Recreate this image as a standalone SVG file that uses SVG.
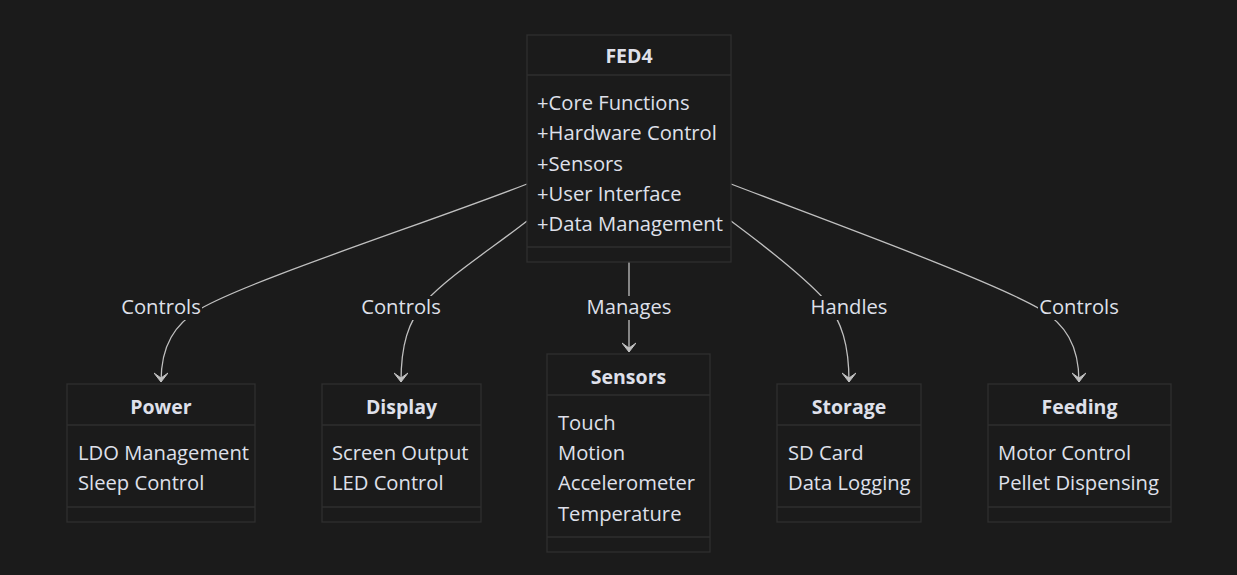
<svg xmlns="http://www.w3.org/2000/svg" width="1237" height="575" viewBox="0 0 1237 575">
<defs>
<style>
.bg{fill:#1b1b1b}
.box{fill:#1b1b1b;stroke:#2f2f2f;stroke-width:1.3}
.div{stroke:#2f2f2f;stroke-width:1.3}
text{font-family:"Open Sans","Noto Sans","DejaVu Sans",sans-serif;fill:#dfe0ea;font-size:20.2px}
.title{font-weight:bold;text-anchor:middle;font-size:19.5px}
.lbl{text-anchor:middle}
.edge{fill:none;stroke:#c0c0c0;stroke-width:1.3}
.lblbg{fill:#1b1b1b}
</style>
<marker id="arr" viewBox="0 0 14 12" refX="7" refY="12" markerWidth="14" markerHeight="12" markerUnits="userSpaceOnUse" orient="0">
<path d="M0,3 L7,12 L14,3 L7,8 Z" fill="#c0c0c0" stroke="#c0c0c0" stroke-width="1" stroke-linejoin="miter"/>
</marker>
</defs>
<rect class="bg" x="0" y="0" width="1237" height="575"/>
<g id="connectors">
<path class="edge" d="M527,184 C430,222 250,280 200,309 C175,324 161,345 161,382" marker-end="url(#arr)"/>
<path class="edge" d="M527,221 C490,250 450,275 425,302 C408,322 401,345 401,382" marker-end="url(#arr)"/>
<path class="edge" d="M629,262 L629,352" marker-end="url(#arr)"/>
<path class="edge" d="M731,221 C770,250 805,278 825,300 C842,322 849,345 849,382" marker-end="url(#arr)"/>
<path class="edge" d="M731,184 C830,222 990,280 1040,309 C1065,324 1079,345 1079,382" marker-end="url(#arr)"/>
<rect class="lblbg" x="120" y="296" width="82" height="24"/>
<text class="lbl" x="161" y="314">Controls</text>
<rect class="lblbg" x="360" y="296" width="82" height="24"/>
<text class="lbl" x="401" y="314">Controls</text>
<rect class="lblbg" x="587" y="296" width="84" height="24"/>
<text class="lbl" x="629" y="314">Manages</text>
<rect class="lblbg" x="810" y="296" width="78" height="24"/>
<text class="lbl" x="849" y="314">Handles</text>
<rect class="lblbg" x="1038" y="296" width="82" height="24"/>
<text class="lbl" x="1079" y="314">Controls</text>
</g>
<g id="FED4">
<rect class="box" x="527" y="35" width="204" height="227"/>
<line class="div" x1="527" y1="75" x2="731" y2="75"/>
<line class="div" x1="527" y1="247" x2="731" y2="247"/>
<text class="title" x="629" y="63">FED4</text>
<text x="537" y="110">+Core Functions</text>
<text x="537" y="140">+Hardware Control</text>
<text x="537" y="171">+Sensors</text>
<text x="537" y="201">+User Interface</text>
<text x="537" y="231">+Data Management</text>
</g>
<g id="Power">
<rect class="box" x="67" y="384" width="188" height="138"/>
<line class="div" x1="67" y1="425" x2="255" y2="425"/>
<line class="div" x1="67" y1="507" x2="255" y2="507"/>
<text class="title" x="161" y="414">Power</text>
<text x="78" y="460">LDO Management</text>
<text x="78" y="490">Sleep Control</text>
</g>
<g id="Display">
<rect class="box" x="322" y="384" width="159" height="138"/>
<line class="div" x1="322" y1="425" x2="481" y2="425"/>
<line class="div" x1="322" y1="507" x2="481" y2="507"/>
<text class="title" x="401.5" y="414">Display</text>
<text x="332" y="460">Screen Output</text>
<text x="332" y="490">LED Control</text>
</g>
<g id="Sensors">
<rect class="box" x="547" y="354" width="163" height="198"/>
<line class="div" x1="547" y1="395" x2="710" y2="395"/>
<line class="div" x1="547" y1="537" x2="710" y2="537"/>
<text class="title" x="628.5" y="384">Sensors</text>
<text x="558" y="430">Touch</text>
<text x="558" y="460">Motion</text>
<text x="558" y="490">Accelerometer</text>
<text x="558" y="521">Temperature</text>
</g>
<g id="Storage">
<rect class="box" x="777" y="384" width="144" height="138"/>
<line class="div" x1="777" y1="425" x2="921" y2="425"/>
<line class="div" x1="777" y1="507" x2="921" y2="507"/>
<text class="title" x="849" y="414">Storage</text>
<text x="788" y="460">SD Card</text>
<text x="788" y="490">Data Logging</text>
</g>
<g id="Feeding">
<rect class="box" x="988" y="384" width="183" height="138"/>
<line class="div" x1="988" y1="425" x2="1171" y2="425"/>
<line class="div" x1="988" y1="507" x2="1171" y2="507"/>
<text class="title" x="1079.5" y="414">Feeding</text>
<text x="998" y="460">Motor Control</text>
<text x="998" y="490">Pellet Dispensing</text>
</g>
</svg>
